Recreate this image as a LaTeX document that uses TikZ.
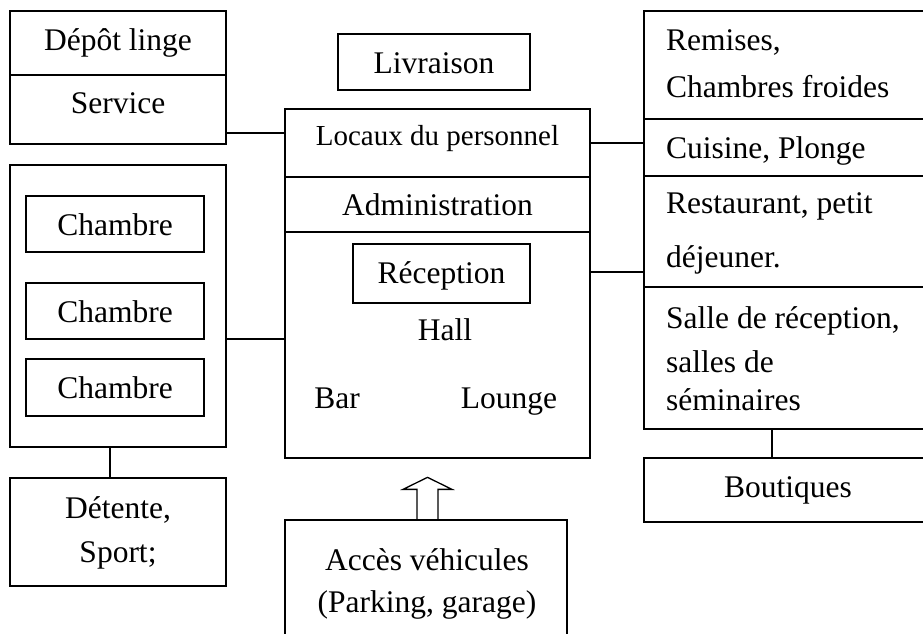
\documentclass[tikz,border=0pt]{standalone}
\usepackage{fontspec}
\setmainfont{Liberation Serif}
\usetikzlibrary{calc}
\newcommand{\bigfs}{\fontsize{31.5}{38}\selectfont}
\newcommand{\smallfs}{\fontsize{29}{35}\selectfont}
\begin{document}
\begin{tikzpicture}[x=1pt,y=-1pt,
  box/.style={draw, line width=1.3pt, inner sep=0pt, rectangle},
  ln/.style={line width=1.3pt},
  txt/.style={inner sep=0pt, anchor=base, font=\bigfs},
  ltxt/.style={inner sep=0pt, anchor=base west, font=\bigfs}]
\useasboundingbox (0,0) rectangle (923,633);
% boxes
\node[box, minimum width=216pt, minimum height=133pt] (depot) at (118,77.5) {};
\draw[ln] (depot.west |- 0,75) -- (depot.east |- 0,75);
\node[box, minimum width=305pt, minimum height=349pt] (central) at (437.5,283.5) {};
\draw[ln] (central.west |- 0,177) -- (central.east |- 0,177);
\draw[ln] (central.west |- 0,232) -- (central.east |- 0,232);
\node[box, minimum width=192pt, minimum height=56pt] (livraison) at (434,62) {};
\node[box, minimum width=177pt, minimum height=59pt] (reception) at (441.5,273.5) {};
\node[box, minimum width=216pt, minimum height=282pt] (chambres) at (118,306) {};
\node[box, minimum width=178pt, minimum height=56pt] (ch1) at (115,224) {};
\node[box, minimum width=178pt, minimum height=56pt] (ch2) at (115,311) {};
\node[box, minimum width=178pt, minimum height=57pt] (ch3) at (115,387.5) {};
\node[box, minimum width=216pt, minimum height=108pt] (detente) at (118,532) {};
\node[box, minimum width=306pt, minimum height=418pt] (right) at (797,220) {};
\draw[ln] (right.west |- 0,119) -- (right.east |- 0,119);
\draw[ln] (right.west |- 0,176) -- (right.east |- 0,176);
\draw[ln] (right.west |- 0,287) -- (right.east |- 0,287);
\node[box, minimum width=306pt, minimum height=64pt] (boutiques) at (797,490) {};
\node[box, minimum width=282pt, minimum height=140pt] (acces) at (426,590) {};
% texts
\node[txt] (t1) at (118,50) {Dépôt linge};
\node[txt] (t2) at (118,113) {Service};
\node[txt] (t3) at (434,73) {Livraison};
\node[txt, font=\smallfs] (t4) at (437.5,145) {Locaux du personnel};
\node[txt] (t5) at (437.5,215) {Administration};
\node[txt] (t6) at (441.5,283) {Réception};
\node[txt] (t7) at (445,340) {Hall};
\node[txt] (t8) at (337,408) {Bar};
\node[txt] (t9) at (509,408) {Lounge};
\node[txt] (t10) at (115,235) {Chambre};
\node[txt] (t11) at (115,322) {Chambre};
\node[txt] (t12) at (115,398) {Chambre};
\node[txt] (t13) at (118,518) {Détente,};
\node[txt] (t14) at (118,562) {Sport;};
\node[ltxt] (r1) at (666,50) {Remises,};
\node[ltxt] (r2) at (666,97) {Chambres froides};
\node[ltxt] (r3) at (666,158) {Cuisine, Plonge};
\node[ltxt] (r4) at (666,213) {Restaurant, petit};
\node[ltxt] (r5) at (666,267) {déjeuner.};
\node[ltxt] (r6) at (666,328) {Salle de réception,};
\node[ltxt] (r7) at (666,372) {salles de};
\node[ltxt] (r8) at (666,410) {séminaires};
\node[txt] (t15) at (788,497) {Boutiques};
\node[txt] (t16) at (427,570) {Accès véhicules};
\node[txt] (t17) at (427,612) {(Parking, garage)};
% connectors
\draw[ln] (depot.east |- 0,133) -- (central.west |- 0,133);
\draw[ln] (chambres.east |- 0,339) -- (central.west |- 0,339);
\draw[ln] (central.east |- 0,143) -- (right.west |- 0,143);
\draw[ln] (central.east |- 0,272) -- (right.west |- 0,272);
\draw[ln] (chambres.south -| 110,0) -- (detente.north -| 110,0);
\draw[ln] (right.south -| 772,0) -- (boutiques.north -| 772,0);
% hollow arrow
\coordinate (ab) at (acces.north -| 427.5,0);
\draw[ln, line join=miter] ($(ab)+(-10.5,0)$) -- ($(ab)+(-10.5,-30)$) -- ($(ab)+(-24.5,-30)$)
  -- ($(ab)+(0,-42)$) -- ($(ab)+(24.5,-30)$) -- ($(ab)+(10.5,-30)$) -- ($(ab)+(10.5,0)$);
\end{tikzpicture}
\end{document}
